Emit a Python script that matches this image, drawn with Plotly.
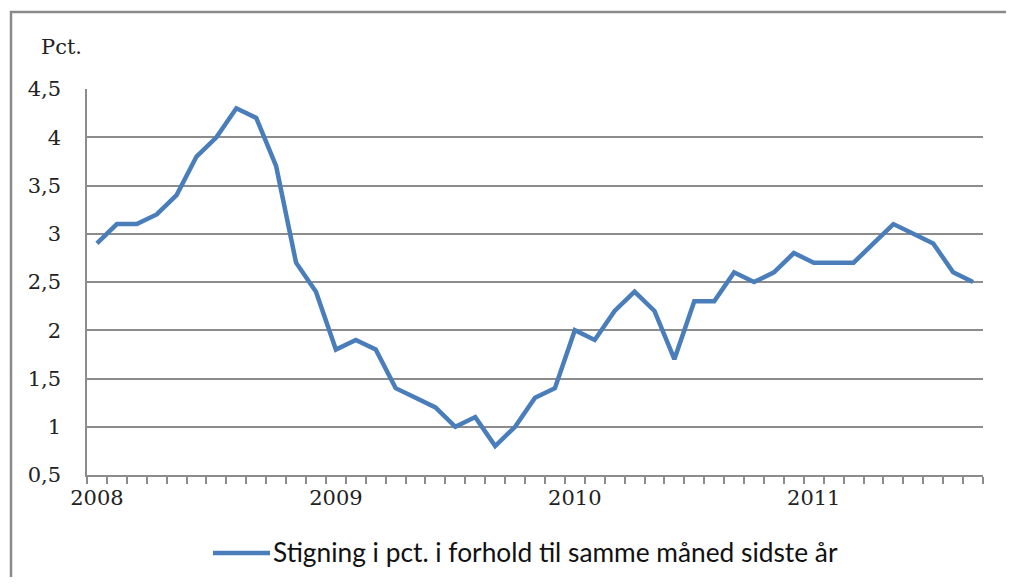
import plotly.graph_objects as go

months = [
    "2008-01", "2008-02", "2008-03", "2008-04", "2008-05", "2008-06",
    "2008-07", "2008-08", "2008-09", "2008-10", "2008-11", "2008-12",
    "2009-01", "2009-02", "2009-03", "2009-04", "2009-05", "2009-06",
    "2009-07", "2009-08", "2009-09", "2009-10", "2009-11", "2009-12",
    "2010-01", "2010-02", "2010-03", "2010-04", "2010-05", "2010-06",
    "2010-07", "2010-08", "2010-09", "2010-10", "2010-11", "2010-12",
    "2011-01", "2011-02", "2011-03", "2011-04", "2011-05", "2011-06",
    "2011-07", "2011-08", "2011-09",
]
stigning = [
    2.9, 3.1, 3.1, 3.2, 3.4, 3.8, 4.0, 4.3, 4.2, 3.7, 2.7, 2.4,
    1.8, 1.9, 1.8, 1.4, 1.3, 1.2, 1.0, 1.1, 0.8, 1.0, 1.3, 1.4,
    2.0, 1.9, 2.2, 2.4, 2.2, 1.7, 2.3, 2.3, 2.6, 2.5, 2.6, 2.8,
    2.7, 2.7, 2.7, 2.9, 3.1, 3.0, 2.9, 2.6, 2.5,
]
x_ticktext = ["2008"] + [""] * 11 + ["2009"] + [""] * 11 + ["2010"] + [""] * 11 + ["2011"] + [""] * 8
y_tickvals = [0.5, 1, 1.5, 2, 2.5, 3, 3.5, 4, 4.5]
y_ticktext = ["0,5", "1", "1,5", "2", "2,5", "3", "3,5", "4", "4,5"]
series_name = "Stigning i pct. i forhold til samme måned sidste år"

# page has an 8px body margin; figure is placed at (8, 8) and sized to avoid scrollbars
OFF = 8
W, H = 1014 - 2 * OFF, 585 - 2 * OFF
L, R, T, B = 87 - OFF, W - (983 - OFF), 89 - OFF, H - (475 - OFF)
PW, PH = W - L - R, H - T - B


def px(x):
    # x in page pixels -> paper coordinate
    return (x - OFF - L) / PW


def py(y):
    return (H - B - (y - OFF)) / PH


LINE_COLOR = "#4a7ebb"
GRID = "#8c8c8c"
FRAME = "#8a8a8a"
TXT = "#222"

fig = go.Figure()
fig.add_trace(go.Scatter(
    x=months, y=stigning, mode="lines", name=series_name,
    line=dict(color=LINE_COLOR, width=4.5), showlegend=False,
))

fig.update_layout(
    width=W, height=H,
    margin=dict(l=L, r=R, t=T, b=B, autoexpand=False),
    paper_bgcolor="white", plot_bgcolor="white",
    font=dict(family="DejaVu Serif", size=21, color=TXT),
    xaxis=dict(
        type="category", categoryorder="array", categoryarray=months,
        tickmode="array", tickvals=months, ticktext=x_ticktext, tickangle=0,
        tickson="boundaries", ticks="outside", ticklen=7, tickcolor=GRID,
        tickwidth=1.5, showgrid=False, showline=True, linecolor=GRID,
        linewidth=1.5, range=[-0.5, 44.5], ticklabelstandoff=3,
        tickfont=dict(family="DejaVu Serif", size=21, color=TXT),
    ),
    yaxis=dict(
        range=[0.5, 4.5], tickmode="array", tickvals=y_tickvals,
        ticktext=y_ticktext, showgrid=True, gridcolor=GRID, gridwidth=1.5,
        showline=True, linecolor=GRID, linewidth=1.5, zeroline=False,
        ticks="", ticklabelstandoff=20,
        tickfont=dict(family="DejaVu Serif", size=21, color=TXT),
    ),
    shapes=[
        dict(type="line", xref="paper", yref="paper",
             x0=px(10), x1=px(1040), y0=py(12), y1=py(12),
             line=dict(color=FRAME, width=2.5), layer="below"),
        dict(type="line", xref="paper", yref="paper",
             x0=px(11), x1=px(11), y0=py(11), y1=py(610),
             line=dict(color=FRAME, width=2.5), layer="below"),
        dict(type="line", xref="paper", yref="paper",
             x0=px(213), x1=px(270), y0=py(553), y1=py(553),
             line=dict(color=LINE_COLOR, width=4.5)),
    ],
    annotations=[
        dict(text="Pct.", xref="paper", yref="paper", x=px(39), y=py(47),
             xanchor="left", yanchor="middle", showarrow=False,
             font=dict(family="DejaVu Serif", size=21, color=TXT)),
        dict(text=series_name, xref="paper", yref="paper", x=px(271), y=py(552),
             xanchor="left", yanchor="middle", showarrow=False,
             font=dict(family="Lato", size=26.3, color="#111")),
    ],
)

fig.write_html("out.html")
